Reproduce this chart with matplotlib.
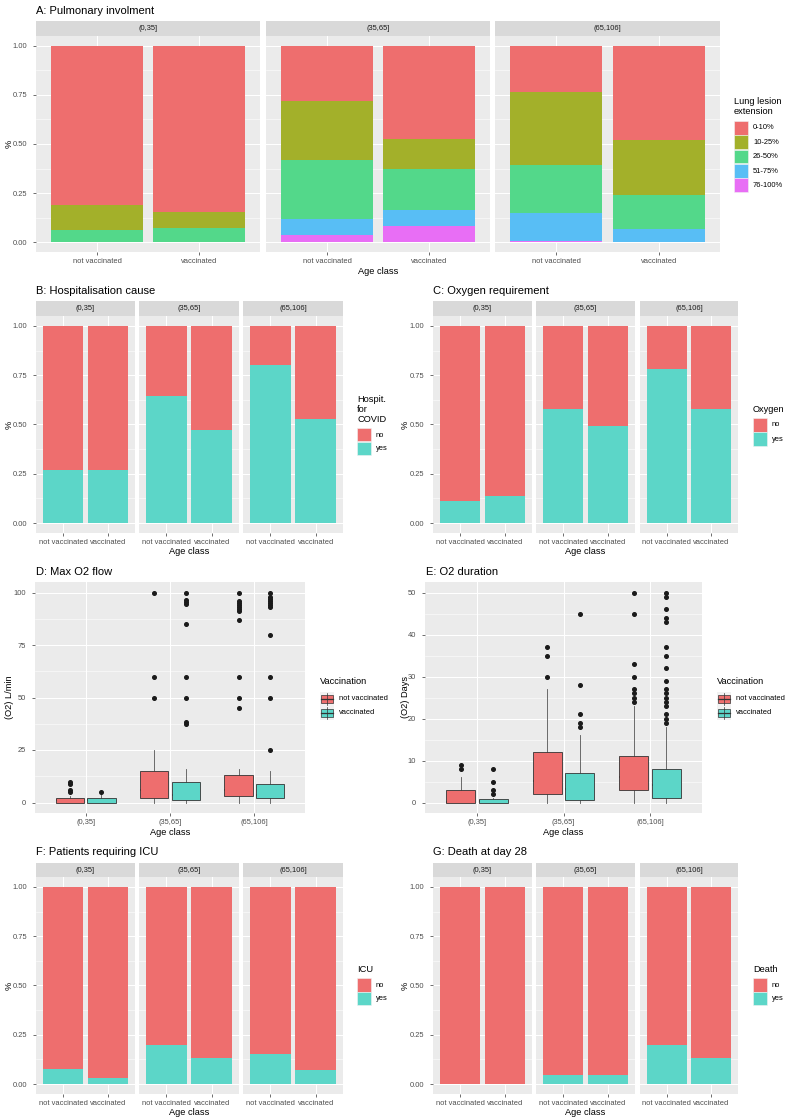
import matplotlib
matplotlib.use('Agg')
import matplotlib.pyplot as plt
from matplotlib.patches import Rectangle

plt.rcParams['font.family'] = ['Liberation Sans', 'DejaVu Sans']

W, H = 787, 1119
fig = plt.figure(figsize=(W / 100, H / 100), dpi=100)

# ---------------- data ----------------
age_classes = ['(0,35]', '(35,65]', '(65,106]']
vacc_groups = ['not vaccinated', 'vaccinated']

# proportions, order: (0,35] nv, (0,35] v, (35,65] nv, (35,65] v, (65,106] nv, (65,106] v
lesion_levels = ['0-10%', '10-25%', '26-50%', '51-75%', '76-100%']
lesion_0_10 = [0.813, 0.848, 0.282, 0.476, 0.236, 0.479]
lesion_10_25 = [0.123, 0.079, 0.300, 0.151, 0.373, 0.283]
lesion_26_50 = [0.064, 0.073, 0.298, 0.208, 0.244, 0.171]
lesion_51_75 = [0.000, 0.000, 0.081, 0.084, 0.139, 0.067]
lesion_76_100 = [0.000, 0.000, 0.039, 0.081, 0.008, 0.000]

yn_levels = ['no', 'yes']
hosp_no = [0.729, 0.729, 0.358, 0.529, 0.200, 0.473]
hosp_yes = [0.271, 0.271, 0.642, 0.471, 0.800, 0.527]
oxy_no = [0.886, 0.864, 0.420, 0.508, 0.217, 0.420]
oxy_yes = [0.114, 0.136, 0.580, 0.492, 0.783, 0.580]
icu_no = [0.924, 0.968, 0.803, 0.868, 0.846, 0.929]
icu_yes = [0.076, 0.032, 0.197, 0.132, 0.154, 0.071]
death_no = [1.000, 1.000, 0.954, 0.954, 0.803, 0.870]
death_yes = [0.000, 0.000, 0.046, 0.046, 0.197, 0.130]

# box statistics, same order as above
flow_q1 = [0, 0, 2, 1.3, 3, 2]
flow_med = [1, 1, 6, 3.5, 6, 3.5]
flow_q3 = [2, 2, 15, 10, 13, 9]
flow_lo = [0, 0, 0, 0, 0, 0]
flow_hi = [3, 4, 25, 16, 16, 15]
flow_out = [[5, 6, 9, 10], [5], [50, 60, 100],
            [37.5, 38.5, 50, 60, 85, 94.5, 95.5, 96.5, 100],
            [45, 50, 60, 87, 91, 92, 93, 94, 95, 96, 100],
            [25, 50, 60, 80, 93, 94, 95, 96, 97, 98, 100]]

dur_q1 = [0, 0, 2, 0.6, 3, 1]
dur_med = [0.2, 0.3, 5.2, 3.1, 6, 4.2]
dur_q3 = [2.9, 0.8, 12, 7, 11, 8]
dur_lo = [0, 0, 0, 0, 0, 0]
dur_hi = [6, 1, 27, 16, 23, 18]
dur_out = [[8, 9], [2, 3, 5, 8], [30, 35, 37], [18, 19, 21, 28, 45],
           [24, 25, 26, 27, 30, 33, 45, 50],
           [19, 20, 21, 23, 24, 25, 26, 27, 29, 32, 35, 37, 43, 44, 46, 49, 50]]

# ---------------- style ----------------
RED = '#EE6E6E'
TEAL = '#5CD6C8'
LES_COLORS = ['#EE6E6E', '#A3B02A', '#53D88A', '#58BEF5', '#E86EF5']
BG = '#EBEBEB'
STRIP = '#D9D9D9'
TICK = 5.36
AXT = 6.7
TITLE = 8.0

ov = fig.add_axes([0, 0, 1, 1])
ov.set_xlim(0, W)
ov.set_ylim(H, 0)
ov.axis('off')
ov.set_zorder(10)
ov.patch.set_visible(False)


def px_axes(x0, y0, x1, y1):
    return fig.add_axes([x0 / W, 1 - y1 / H, (x1 - x0) / W, (y1 - y0) / H])


def style(ax, show_y, yticks, ylabels, yminor, ylim):
    ax.set_facecolor(BG)
    for s in ax.spines.values():
        s.set_visible(False)
    ax.set_ylim(*ylim)
    ax.set_yticks(yticks)
    ax.set_yticklabels(ylabels)
    ax.set_yticks(yminor, minor=True)
    ax.set_axisbelow(True)
    ax.grid(which='major', color='white', lw=0.75)
    ax.grid(which='minor', axis='y', color='white', lw=0.38)
    ax.tick_params(which='minor', length=0)
    ax.tick_params(which='major', length=2.0, width=0.5, color='#333333',
                   labelsize=TICK, labelcolor='#4D4D4D')
    ax.tick_params(axis='x', pad=2.0)
    ax.tick_params(axis='y', pad=4.3)
    if not show_y:
        ax.tick_params(axis='y', left=False, labelleft=False)


def txt(x, y, s, size, ha='left', va='center', color='black', rot=0):
    ov.text(x, y, s, fontsize=size, ha=ha, va=va, color=color, rotation=rot)


def bar_panel(facets, strip_top, top, bot, series, colors):
    for i, (fx0, fx1) in enumerate(facets):
        ov.add_patch(Rectangle((fx0, strip_top), fx1 - fx0, top - strip_top,
                               facecolor=STRIP, edgecolor='none'))
        txt((fx0 + fx1) / 2, (strip_top + top) / 2 + 0.3, age_classes[i], TICK,
            ha='center', color='#1A1A1A')
        ax = px_axes(fx0, top, fx1, bot)
        style(ax, i == 0, [0, 0.25, 0.5, 0.75, 1.0],
              ['0.00', '0.25', '0.50', '0.75', '1.00'],
              [0.125, 0.375, 0.625, 0.875], (-0.05, 1.05))
        xs = [1, 2]
        bottom = [0.0, 0.0]
        for vals, col in zip(series, colors):
            v = vals[2 * i:2 * i + 2]
            ax.bar(xs, v, 0.9, bottom=bottom, color=col, edgecolor='none', zorder=2)
            bottom = [b + vv for b, vv in zip(bottom, v)]
        ax.set_xlim(0.4, 2.6)
        ax.set_xticks(xs)
        ax.set_xticklabels(vacc_groups)


def fill_legend(x, title_lines, title_y, labels, colors, key_top, pitch=14.4):
    for k, (line, ty) in enumerate(zip(title_lines, title_y)):
        txt(x, ty, line, AXT)
    for k, (lab, col) in enumerate(zip(labels, colors)):
        y = key_top + k * pitch
        ov.add_patch(Rectangle((x, y), 14, pitch - 0.6, facecolor=col,
                               edgecolor='#F2F2F2', lw=0.4))
        txt(x + 19, y + pitch / 2, lab, TICK)


def box_legend(x, title_y, key_top, pitch=14.0):
    txt(x, title_y, 'Vaccination', AXT)
    for k, (lab, col) in enumerate(zip(vacc_groups, [RED, TEAL])):
        y = key_top + k * pitch
        ov.add_patch(Rectangle((x, y), 14.3, pitch, facecolor='#F2F2F2', edgecolor='none'))
        cx = x + 7.15
        ov.plot([cx, cx], [y + 1, y + pitch - 1], color='#333333', lw=0.5)
        ov.add_patch(Rectangle((x + 1, y + 3.2), 12.3, pitch - 6.4, facecolor=col,
                               edgecolor='#333333', lw=0.5))
        ov.plot([x + 1, x + 13.3], [y + pitch / 2, y + pitch / 2], color='#333333', lw=0.9)
        txt(x + 19, y + pitch / 2, lab, TICK)


def box_panel(x0, y0, x1, y1, q1, med, q3, lo, hi, out, yticks, yminor, ylim):
    ax = px_axes(x0, y0, x1, y1)
    style(ax, True, yticks, [str(t) for t in yticks], yminor, ylim)
    stats = []
    positions = []
    for k in range(6):
        stats.append(dict(q1=q1[k], med=med[k], q3=q3[k], whislo=lo[k],
                          whishi=hi[k], fliers=out[k]))
        positions.append(1 + k // 2 + (-0.1875 if k % 2 == 0 else 0.1875))
    res = ax.bxp(stats, positions=positions, widths=0.3375, patch_artist=True,
                 showcaps=False, manage_ticks=False,
                 boxprops=dict(edgecolor='#333333', lw=0.6),
                 whiskerprops=dict(color='#555555', lw=0.6),
                 medianprops=dict(color='#333333', lw=1.2),
                 flierprops=dict(marker='o', markerfacecolor='#1A1A1A',
                                 markeredgecolor='#1A1A1A', markersize=2.6))
    for k, b in enumerate(res['boxes']):
        b.set_facecolor(RED if k % 2 == 0 else TEAL)
        b.set_zorder(3)
    ax.set_xlim(0.4, 3.6)
    ax.set_xticks([1, 2, 3])
    ax.set_xticklabels(age_classes)
    return ax


# ---------------- Panel A ----------------
txt(36, 10.7, 'A: Pulmonary involment', TITLE)
bar_panel([(36, 260), (266, 490), (495, 720)], 21, 36, 252,
          [lesion_76_100, lesion_51_75, lesion_26_50, lesion_10_25, lesion_0_10],
          LES_COLORS[::-1])
txt(378, 271.7, 'Age class', AXT, ha='center')
txt(9, 144, '%', AXT, ha='center', rot=90)
fill_legend(734, ['Lung lesion', 'extension'], [101.7, 111.7], lesion_levels,
            LES_COLORS, 120.7)

# ---------------- Panel B ----------------
BF = [(36, 135), (139, 239), (243, 343)]
CF = [(433, 532), (536, 635), (640, 738)]
txt(36, 291, 'B: Hospitalisation cause', TITLE)
bar_panel(BF, 301, 316, 533, [hosp_yes, hosp_no], [TEAL, RED])
txt(189.5, 551.7, 'Age class', AXT, ha='center')
txt(9, 424.5, '%', AXT, ha='center', rot=90)
fill_legend(357, ['Hospit.', 'for', 'COVID'], [399, 409.3, 419.3], yn_levels,
            [RED, TEAL], 428.3, pitch=13.8)

# ---------------- Panel C ----------------
txt(433, 291, 'C: Oxygen requirement', TITLE)
bar_panel(CF, 301, 316, 533, [oxy_yes, oxy_no], [TEAL, RED])
txt(585.5, 551.7, 'Age class', AXT, ha='center')
txt(405, 424.5, '%', AXT, ha='center', rot=90)
fill_legend(752.7, ['Oxygen'], [409.3], yn_levels, [RED, TEAL], 417.7, pitch=14.5)

# ---------------- Panel D ----------------
txt(36, 572, 'D: Max O2 flow', TITLE)
box_panel(35, 582, 305, 813, flow_q1, flow_med, flow_q3, flow_lo, flow_hi, flow_out,
          [0, 25, 50, 75, 100], [12.5, 37.5, 62.5, 87.5], (-5, 105))
txt(170, 832.7, 'Age class', AXT, ha='center')
txt(10, 697, '(O2) L/min', AXT, ha='center', rot=90)
box_legend(320, 681.7, 691.7)

# ---------------- Panel E ----------------
txt(426, 572, 'E: O2 duration', TITLE)
box_panel(425, 582, 702, 813, dur_q1, dur_med, dur_q3, dur_lo, dur_hi, dur_out,
          [0, 10, 20, 30, 40, 50], [5, 15, 25, 35, 45], (-2.5, 52.5))
txt(563.5, 832.7, 'Age class', AXT, ha='center')
txt(405, 697, '(O2) Days', AXT, ha='center', rot=90)
box_legend(716.7, 681.7, 691.7)

# ---------------- Panel F ----------------
txt(36, 852, 'F: Patients requiring ICU', TITLE)
bar_panel(BF, 863, 877, 1094, [icu_yes, icu_no], [TEAL, RED])
txt(189.5, 1112.7, 'Age class', AXT, ha='center')
txt(9, 985.5, '%', AXT, ha='center', rot=90)
fill_legend(357, ['ICU'], [969], yn_levels, [RED, TEAL], 978.3, pitch=13.8)

# ---------------- Panel G ----------------
txt(433, 852, 'G: Death at day 28', TITLE)
bar_panel(CF, 863, 877, 1094, [death_yes, death_no], [TEAL, RED])
txt(585.5, 1112.7, 'Age class', AXT, ha='center')
txt(405, 985.5, '%', AXT, ha='center', rot=90)
fill_legend(753, ['Death'], [969], yn_levels, [RED, TEAL], 978.3, pitch=13.8)

fig.savefig('out.png', dpi=100, facecolor='white')
